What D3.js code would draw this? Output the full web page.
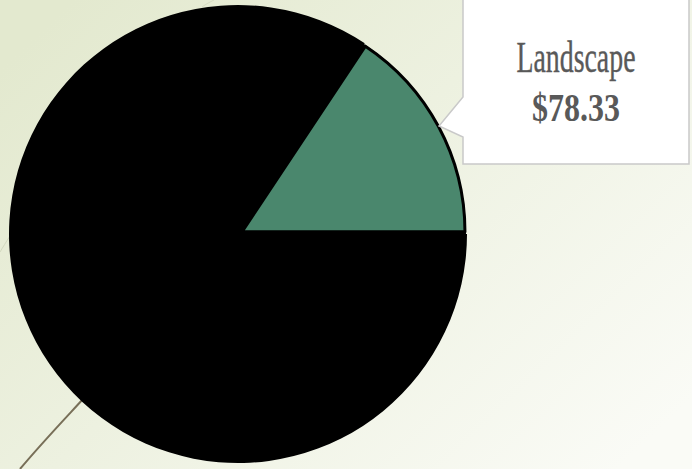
<!DOCTYPE html>
<html>
<head>
<meta charset="utf-8">
<script src="https://cdn.jsdelivr.net/npm/d3@7"></script>
<style>
  html, body { margin: 0; padding: 0; overflow: hidden; }
  svg { display: block; }
</style>
</head>
<body>
<svg id="chart" width="692" height="469"></svg>
<script>
// Spending by category
const categories = ["Landscape", "Other"];
const values = [78.33, 421.67];
const sliceColors = ["#4a876d", "#000000"];
const highlighted = "Landscape";

const W = 692, H = 469;
const cx = 238, cy = 234, radius = 229;

const svg = d3.select("#chart");

// background wash
const defs = svg.append("defs");
const grad = defs.append("linearGradient")
  .attr("id", "bg").attr("x1", 0).attr("y1", 0.15).attr("x2", 1).attr("y2", 0.85);
grad.append("stop").attr("offset", "0").attr("stop-color", "#e3e9cf");
grad.append("stop").attr("offset", "0.45").attr("stop-color", "#edf1e0");
grad.append("stop").attr("offset", "1").attr("stop-color", "#fafbf6");
svg.append("rect").attr("width", W).attr("height", H).attr("fill", "url(#bg)");

// decorative sweeping lines
svg.append("path")
  .attr("d", "M20,469 C40,445 60,424 84,398")
  .attr("fill", "none").attr("stroke", "#786f58").attr("stroke-width", 2);
svg.append("path")
  .attr("d", "M0,252 C3,247 6,242 10,236")
  .attr("fill", "none").attr("stroke", "#d2d8bf").attr("stroke-width", 1);
svg.append("path")
  .attr("d", "M214,0 C210,2 206,4 202,7")
  .attr("fill", "none").attr("stroke", "#d6dcc3").attr("stroke-width", 1);

// pie layout: first slice ends at 3 o'clock
const total = d3.sum(values);
const start = Math.PI / 2 - 2 * Math.PI * values[0] / total;
const pie = d3.pie().sort(null).startAngle(start).endAngle(start + 2 * Math.PI);
const arcs = pie(values);

const g = svg.append("g").attr("transform", `translate(${cx},${cy})`);
const baseArc = d3.arc().innerRadius(0).outerRadius(radius);
const hotArc = d3.arc().innerRadius(0).outerRadius(radius - 6);

// dark base disc under the slices
g.append("circle").attr("r", radius - 1).attr("fill", "#000");

// draw regular slices first, highlighted slice on top
const order = arcs.map((a, i) => i).sort((a, b) =>
  (categories[a] === highlighted) - (categories[b] === highlighted));

order.forEach(i => {
  const a = arcs[i];
  const isHot = categories[i] === highlighted;
  const mid = (a.startAngle + a.endAngle) / 2;
  const pull = isHot ? 4.5 : 0;
  g.append("path")
    .attr("d", isHot ? hotArc(a) : baseArc(a))
    .attr("transform", `translate(${pull * Math.sin(mid)},${-pull * Math.cos(mid)})`)
    .attr("fill", sliceColors[i])
    .attr("stroke", "#000")
    .attr("stroke-width", isHot ? 3 : 0)
    .attr("stroke-linejoin", "round");
});

// tooltip callout
const hi = categories.indexOf(highlighted);
const box = { x: 463, y: -2, w: 226, h: 166 };
const tip = { x: 439, y: 126 };
const tt = svg.append("g");
tt.append("path")
  .attr("d", `M${box.x},${box.y} H${box.x + box.w} V${box.y + box.h} H${box.x}` +
             ` V137 L${tip.x},${tip.y} L${box.x},97 Z`)
  .attr("fill", "#ffffff")
  .attr("stroke", "#c9c9c9")
  .attr("stroke-width", 1.5);

const tx = box.x + box.w / 2;
tt.append("text")
  .attr("x", tx).attr("y", 72)
  .attr("text-anchor", "middle")
  .attr("font-family", "Liberation Serif, serif")
  .attr("font-size", 44)
  .attr("stroke", "#595959").attr("stroke-width", 0.4)
  .attr("textLength", 119).attr("lengthAdjust", "spacingAndGlyphs")
  .attr("fill", "#595959")
  .text(categories[hi]);
tt.append("text")
  .attr("x", tx).attr("y", 121)
  .attr("text-anchor", "middle")
  .attr("font-family", "Liberation Serif, serif")
  .attr("font-weight", "bold")
  .attr("font-size", 41)
  .attr("textLength", 88).attr("lengthAdjust", "spacingAndGlyphs")
  .attr("fill", "#595959")
  .text("$" + d3.format(".2f")(values[hi]));
</script>
</body>
</html>
